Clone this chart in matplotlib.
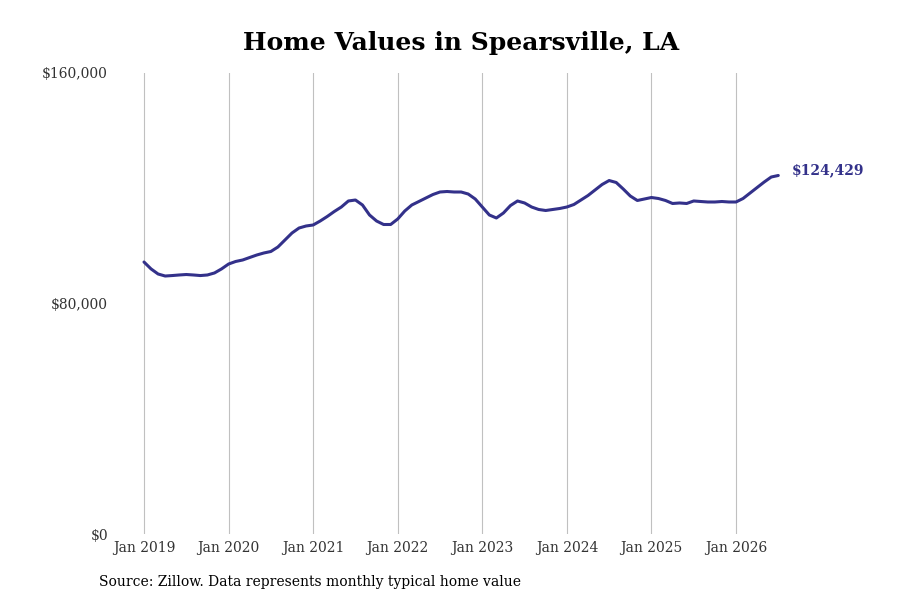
import matplotlib
matplotlib.use("Agg")
import matplotlib.pyplot as plt
import numpy as np

values = [
    94400, 92000, 90240, 89540, 89700, 89900, 90060, 89900, 89700, 89900, 90600, 92000,   # 2019
    93700, 94580, 95100, 95970, 96830, 97530, 98050, 99610, 102040, 104470, 106200, 106900,  # 2020
    107250, 108630, 110200, 111930, 113490, 115580, 115920, 114190, 110720, 108630, 107420, 107420,  # 2021
    109330, 112100, 114190, 115400, 116620, 117830, 118700, 118870, 118700, 118700, 118000, 116270,  # 2022
    113490, 110720, 109680, 111410, 114000, 115580, 114890, 113490, 112630, 112280, 112630, 112980,  # 2023
    113490, 114360, 115920, 117480, 119390, 121300, 122680, 122000, 119740, 117310, 115750, 116270,  # 2024
    116790, 116440, 115750, 114710, 114890, 114710, 115580, 115400, 115230, 115230, 115400, 115230,  # 2025
    115230, 116440, 118350, 120260, 122160, 123900, 124429,  # 2026
]
tick_labels = ["Jan 2019", "Jan 2020", "Jan 2021", "Jan 2022", "Jan 2023", "Jan 2024", "Jan 2025", "Jan 2026"]
y_ticks = [0, 80000, 160000]
y_tick_labels = ["$0", "$80,000", "$160,000"]
title = "Home Values in Spearsville, LA"
source = "Source: Zillow. Data represents monthly typical home value"
end_label = "$124,429"

plt.rcParams['font.family'] = ['DejaVu Serif']

fig = plt.figure(figsize=(9, 6), dpi=100)
L, R = 115, 800
ax = fig.add_axes([L / 900, 66 / 600, (R - L) / 900, 461 / 600])

months = np.arange(len(values))
color = "#33318a"
ax.plot(months, values, color=color, linewidth=2.2, solid_capstyle='round')

px_per_month = (736 - 144) / 84
ax.set_xlim((L - 144) / px_per_month, (R - 144) / px_per_month)
ax.set_ylim(0, 160000)
ax.set_xticks(np.arange(len(tick_labels)) * 12)
ax.set_xticklabels(tick_labels)
ax.set_yticks(y_ticks)
ax.set_yticklabels(y_tick_labels)
ax.tick_params(axis='both', length=0, labelsize=10, labelcolor="#333333")
ax.tick_params(axis='x', pad=5)
ax.tick_params(axis='y', pad=5)
ax.grid(axis='x', color="#c0c0c0", linewidth=0.8)
ax.grid(axis='y', visible=False)
for s in ax.spines.values():
    s.set_visible(False)

ax.annotate(end_label, xy=(months[-1], values[-1]), xytext=(10, 4), textcoords='offset points',
            ha='left', va='center', fontsize=10, fontweight='bold', color=color)

fig.text(461 / 900, 1 - 43 / 600, title, ha='center', va='center', fontsize=18, fontweight='bold', color='black')
fig.text(99 / 900, 1 - 582 / 600, source, ha='left', va='center', fontsize=10, color='black')

fig.savefig("out.png", dpi=100)
